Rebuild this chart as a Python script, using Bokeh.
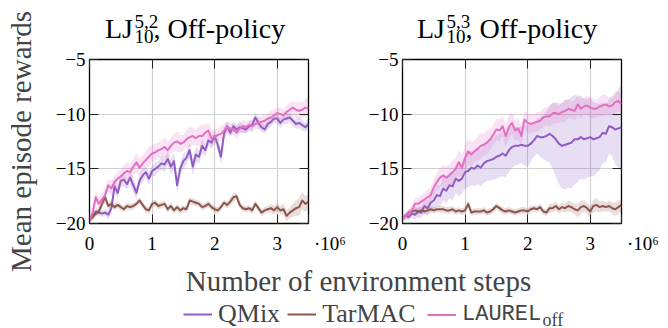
import math
from bokeh.plotting import figure
from bokeh.layouts import column, row
from bokeh.models import (FixedTicker, CustomJSTickFormatter, Label, Legend, LegendItem,
                          LinearAxis, Range1d)
from bokeh.embed import file_html
from bokeh.resources import INLINE

# x positions: environment steps (every 50k steps)
STEPS = [i * 50_000 for i in range(71)]

# ---------------- Left panel: LJ_10^{5,2} ----------------
LEFT_QMIX = [
    -19.7, -19.3, -18.9, -19.0, -19.1, -19.0, -19.2, -18.6, -16.6, -17.2,
    -16.1, -16.0, -16.4, -15.8, -16.5, -17.2, -16.1, -15.6, -15.3, -15.9,
    -15.2, -15.0, -14.8, -14.5, -14.6, -14.1, -14.8, -14.3, -16.5, -15.0,
    -14.3, -14.0, -13.3, -14.8, -13.7, -13.9, -12.9, -13.3, -12.4, -12.6,
    -12.0, -12.8, -13.9, -11.8, -11.1, -11.7, -11.1, -11.4, -11.2, -11.3,
    -11.4, -11.1, -11.0, -10.3, -10.8, -11.2, -11.4, -10.9, -10.7, -10.4,
    -10.4, -10.8, -10.5, -10.4, -10.3, -10.6, -10.9, -10.8, -11.0, -11.2,
    -10.9]
LEFT_QMIX_SD = [
    0.2, 0.3, 0.3, 0.3, 0.3, 0.3, 0.4, 0.5, 0.6, 0.5,
    0.6, 0.6, 0.5, 0.6, 0.7, 0.6, 0.5, 0.6, 0.5, 0.6,
    0.5, 0.6, 0.5, 0.6, 0.7, 0.6, 0.7, 0.8, 0.7, 0.6,
    0.7, 0.6, 0.7, 0.8, 0.7, 0.6, 0.7, 0.6, 0.5, 0.6,
    0.5, 0.6, 0.7, 0.6, 0.5, 0.4, 0.5, 0.4, 0.5, 0.4,
    0.4, 0.4, 0.5, 0.4, 0.5, 0.4, 0.4, 0.5, 0.4, 0.4,
    0.4, 0.5, 0.4, 0.5, 0.4, 0.5, 0.4, 0.5, 0.5, 0.4,
    0.5]
LEFT_TARMAC = [
    -19.7, -19.4, -19.1, -18.9, -18.2, -17.6, -18.4, -18.2, -18.5, -18.3,
    -18.5, -18.7, -18.4, -18.5, -18.4, -18.2, -17.9, -18.3, -18.7, -18.8,
    -18.2, -18.1, -18.4, -18.3, -18.2, -18.7, -18.4, -18.8, -18.5, -18.8,
    -18.6, -18.7, -17.9, -18.0, -18.1, -18.2, -18.5, -18.4, -18.2, -18.5,
    -18.7, -18.8, -18.5, -18.1, -18.3, -18.0, -17.6, -17.5, -18.3, -18.6,
    -18.7, -18.6, -18.8, -18.2, -18.6, -19.0, -18.8, -18.7, -18.6, -18.8,
    -18.5, -18.8, -18.7, -19.3, -19.0, -18.8, -18.6, -18.5, -17.9, -18.2,
    -18.0]
LEFT_TARMAC_SD = [
    0.2, 0.3, 0.3, 0.3, 0.4, 0.4, 0.3, 0.3, 0.3, 0.3,
    0.3, 0.3, 0.3, 0.3, 0.3, 0.3, 0.3, 0.3, 0.3, 0.3,
    0.3, 0.3, 0.3, 0.3, 0.3, 0.3, 0.3, 0.3, 0.3, 0.3,
    0.3, 0.3, 0.3, 0.3, 0.3, 0.3, 0.3, 0.3, 0.3, 0.3,
    0.3, 0.3, 0.3, 0.3, 0.3, 0.4, 0.4, 0.3, 0.3, 0.3,
    0.3, 0.3, 0.3, 0.3, 0.3, 0.3, 0.3, 0.3, 0.4, 0.4,
    0.4, 0.4, 0.5, 0.5, 0.5, 0.6, 0.7, 0.8, 0.8, 0.7,
    0.7]
LEFT_LAUREL = [
    -19.7, -19.0, -17.6, -18.2, -17.8, -17.4, -16.5, -16.8, -16.2, -15.9,
    -15.7, -15.4, -15.2, -15.3, -14.8, -14.4, -14.9, -14.5, -14.2, -13.9,
    -13.6, -13.5, -13.3, -13.2, -13.0, -13.3, -12.9, -12.6, -12.5, -12.7,
    -12.6, -12.3, -12.1, -12.0, -12.2, -12.0, -12.0, -11.7, -11.5, -12.2,
    -12.1, -11.9, -11.8, -11.5, -11.2, -11.3, -11.4, -11.7, -11.3, -11.1,
    -11.2, -11.0, -11.1, -10.9, -10.8, -10.7, -10.6, -10.4, -10.3, -10.1,
    -9.9, -10.0, -10.1, -9.8, -9.6, -9.4, -9.6, -9.7, -9.6, -9.4,
    -9.5]
LEFT_LAUREL_SD = [
    0.2, 0.4, 0.6, 0.5, 0.6, 0.7, 0.6, 0.7, 0.6, 0.7,
    0.6, 0.7, 0.8, 0.7, 0.8, 0.9, 0.8, 0.7, 0.8, 0.9,
    0.8, 0.8, 0.7, 0.8, 0.9, 0.8, 0.7, 0.8, 0.9, 0.8,
    0.7, 0.8, 0.9, 0.8, 0.7, 0.9, 1.0, 0.8, 0.7, 0.8,
    0.7, 0.6, 0.7, 0.6, 0.5, 0.6, 0.5, 0.6, 0.5, 0.6,
    0.5, 0.5, 0.6, 0.5, 0.6, 0.5, 0.6, 0.5, 0.6, 0.5,
    0.5, 0.6, 0.5, 0.6, 0.7, 0.6, 0.7, 0.8, 0.7, 0.8,
    0.9]

# ---------------- Right panel: LJ_10^{5,3} ----------------
RIGHT_QMIX = [
    -19.6, -19.3, -19.4, -19.1, -19.2, -18.9, -19.0, -18.4, -18.6, -18.1,
    -17.9, -17.4, -17.5, -16.8, -17.0, -16.5, -16.6, -15.9, -16.1, -15.9,
    -15.3, -15.2, -14.9, -15.0, -14.7, -14.9, -14.5, -14.3, -14.2, -14.1,
    -13.9, -13.8, -13.6, -13.8, -13.3, -13.0, -12.9, -12.9, -12.8, -12.9,
    -12.9, -12.7, -12.4, -12.0, -12.1, -12.1, -12.0, -11.8, -12.0, -12.3,
    -12.7, -12.9, -12.8, -12.7, -12.6, -12.3, -12.3, -12.1, -12.3, -12.2,
    -12.1, -12.3, -12.2, -12.1, -11.7, -11.8, -11.1, -11.2, -11.4, -11.3,
    -11.2]
RIGHT_QMIX_SD = [
    0.2, 0.3, 0.3, 0.4, 0.4, 0.5, 0.5, 0.6, 0.7, 0.8,
    0.9, 1.0, 1.0, 1.1, 1.2, 1.2, 1.3, 1.3, 1.4, 1.4,
    1.5, 1.5, 1.6, 1.6, 1.7, 1.7, 1.8, 1.8, 1.9, 1.9,
    2.0, 2.0, 2.1, 2.0, 2.0, 1.9, 1.8, 1.7, 1.7, 1.8,
    1.9, 1.7, 1.5, 1.6, 1.8, 2.0, 2.3, 2.6, 3.0, 3.4,
    3.7, 3.9, 4.1, 4.0, 4.2, 4.1, 3.9, 3.8, 3.7, 3.6,
    3.6, 3.4, 3.2, 3.0, 2.8, 2.6, 2.5, 2.7, 3.2, 3.6,
    3.9]
RIGHT_TARMAC = [
    -19.5, -19.3, -19.0, -18.9, -18.8, -18.9, -18.8, -18.9, -18.8, -18.7,
    -18.8, -18.7, -18.7, -18.7, -18.8, -18.8, -18.7, -18.9, -18.8, -18.9,
    -18.8, -18.2, -19.0, -18.9, -18.9, -18.9, -18.8, -19.0, -18.9, -18.7,
    -18.4, -18.6, -18.8, -18.9, -18.8, -18.9, -19.0, -18.9, -18.8, -18.8,
    -18.9, -18.7, -18.6, -18.7, -18.5, -18.9, -19.0, -18.6, -18.6, -18.4,
    -18.7, -18.5, -18.6, -18.4, -18.5, -18.7, -18.8, -18.5, -18.4, -18.6,
    -18.9, -18.4, -18.3, -18.5, -18.4, -18.5, -18.4, -18.6, -18.7, -18.5,
    -18.3]
RIGHT_TARMAC_SD = [
    0.2, 0.2, 0.3, 0.3, 0.3, 0.3, 0.3, 0.3, 0.3, 0.3,
    0.3, 0.3, 0.3, 0.3, 0.3, 0.3, 0.3, 0.3, 0.3, 0.3,
    0.3, 0.3, 0.3, 0.3, 0.3, 0.3, 0.3, 0.3, 0.3, 0.3,
    0.3, 0.3, 0.3, 0.3, 0.3, 0.3, 0.3, 0.3, 0.3, 0.3,
    0.3, 0.3, 0.3, 0.3, 0.3, 0.3, 0.3, 0.4, 0.4, 0.4,
    0.4, 0.4, 0.4, 0.5, 0.5, 0.5, 0.6, 0.6, 0.5, 0.5,
    0.5, 0.6, 0.6, 0.5, 0.5, 0.4, 0.5, 0.5, 0.6, 0.6,
    0.6]
RIGHT_LAUREL = [
    -19.6, -19.3, -19.1, -18.8, -18.2, -18.2, -18.0, -17.8, -17.6, -17.4,
    -16.7, -16.2, -15.8, -15.6, -15.8, -15.6, -15.3, -15.0, -14.4, -14.9,
    -14.0, -13.4, -13.7, -13.4, -13.2, -12.9, -12.8, -12.6, -12.3, -11.9,
    -11.4, -11.5, -11.1, -12.0, -11.2, -10.8, -11.5, -11.3, -12.0, -10.5,
    -10.8, -10.9, -10.8, -10.7, -10.6, -10.3, -10.2, -10.2, -9.9, -9.9,
    -10.0, -9.8, -9.7, -9.5, -9.6, -9.7, -9.1, -9.5, -9.3, -9.2,
    -9.4, -9.5, -9.5, -9.3, -9.2, -9.1, -9.3, -9.2, -8.9, -8.8,
    -9.1]
RIGHT_LAUREL_SD = [
    0.3, 0.4, 0.4, 0.5, 0.5, 0.6, 0.6, 0.6, 0.7, 0.7,
    0.8, 0.8, 0.9, 0.9, 1.0, 1.0, 1.1, 1.0, 1.1, 1.2,
    1.1, 1.2, 1.1, 1.0, 1.1, 1.2, 1.0, 1.1, 1.0, 0.9,
    1.0, 1.0, 0.9, 1.0, 1.1, 1.0, 0.9, 1.0, 0.9, 0.8,
    0.9, 0.9, 0.8, 0.9, 0.8, 0.9, 0.8, 0.9, 1.0, 0.9,
    0.8, 0.9, 1.0, 0.9, 0.8, 0.9, 1.0, 0.9, 0.8, 0.9,
    1.0, 0.9, 0.8, 0.9, 1.0, 0.9, 0.8, 0.9, 1.0, 0.9,
    0.8]

SERIES = ["QMix", "TarMAC", "LAUREL"]
COLORS = {"QMix": "#8e5cc4", "TarMAC": "#8c564b", "LAUREL": "#e36fc1"}
X_TICKS = [0, 1_000_000, 2_000_000, 3_000_000]
X_END = 3_500_000
Y_TICKS = [-20, -15, -10, -5]
TITLE_SUPS = ["5,2", "5,3"]

SERIF = "Liberation Serif"
MONO = "Liberation Mono"

LEFT = {"QMix": (LEFT_QMIX, LEFT_QMIX_SD), "TarMAC": (LEFT_TARMAC, LEFT_TARMAC_SD),
        "LAUREL": (LEFT_LAUREL, LEFT_LAUREL_SD)}
RIGHT = {"QMix": (RIGHT_QMIX, RIGHT_QMIX_SD), "TarMAC": (RIGHT_TARMAC, RIGHT_TARMAC_SD),
         "LAUREL": (RIGHT_LAUREL, RIGHT_LAUREL_SD)}

FRAME_W, FRAME_H = 219, 164
NBSP = "\u00a0"

X_FORMAT = CustomJSTickFormatter(code="""
if (tick > 3400000) { return '%s' + '\\u00b710\\u2076'; }
return (tick / 1e6).toFixed(0);
""" % (NBSP * 9))
Y_FORMAT = CustomJSTickFormatter(
    code="return tick < 0 ? '\\u2212' + Math.abs(tick) : String(tick);")


def style_axis(ax, show_labels=True):
    ax.axis_line_color = None
    ax.major_tick_in = 9
    ax.major_tick_out = 0
    ax.major_tick_line_color = "#222222"
    ax.major_tick_line_width = 1
    ax.minor_tick_line_color = None
    ax.major_label_text_font = SERIF
    ax.major_label_text_font_size = "19px" if show_labels else "0px"
    ax.major_label_text_color = "black"
    if not show_labels:
        ax.major_label_standoff = 0
        ax.formatter = CustomJSTickFormatter(code="return '';")


def make_panel(data, border_left, border_right):
    p = figure(frame_width=FRAME_W, frame_height=FRAME_H, title=None,
               x_range=Range1d(0, X_END), y_range=Range1d(-20, -5),
               min_border_left=border_left, min_border_right=border_right,
               min_border_top=11, min_border_bottom=33,
               output_backend="svg", toolbar_location=None)
    p.background_fill_color = "white"
    p.border_fill_color = "white"
    p.outline_line_color = "black"
    p.outline_line_width = 1.3

    xa = p.xaxis[0]
    ya = p.yaxis[0]
    xa.ticker = FixedTicker(ticks=X_TICKS + [X_END])
    xa.formatter = X_FORMAT
    ya.ticker = FixedTicker(ticks=Y_TICKS)
    ya.formatter = Y_FORMAT
    style_axis(xa)
    style_axis(ya)
    xa.major_label_standoff = 9
    ya.major_label_standoff = 4

    top_ax = LinearAxis(ticker=FixedTicker(ticks=X_TICKS))
    style_axis(top_ax, show_labels=False)
    p.add_layout(top_ax, "above")
    right_ax = LinearAxis(ticker=FixedTicker(ticks=Y_TICKS))
    style_axis(right_ax, show_labels=False)
    p.add_layout(right_ax, "right")

    p.xgrid.grid_line_color = "#cfcfcf"
    p.ygrid.grid_line_color = "#cfcfcf"
    p.xgrid.grid_line_width = 1.2
    p.ygrid.grid_line_width = 1.2

    for name in SERIES:
        mean, sd = data[name]
        lo = [m - s for m, s in zip(mean, sd)]
        hi = [m + s for m, s in zip(mean, sd)]
        p.varea(x=STEPS, y1=lo, y2=hi, fill_color=COLORS[name], fill_alpha=0.2)
        p.line(x=STEPS, y=mean, line_color=COLORS[name], line_width=2, line_join="round")
    return p


def strip(width, height):
    s = figure(frame_width=width, frame_height=height, title=None,
               x_range=Range1d(0, width), y_range=Range1d(0, height),
               x_axis_type=None, y_axis_type=None, min_border=0,
               output_backend="svg", toolbar_location=None)
    s.outline_line_color = None
    s.background_fill_color = "white"
    s.border_fill_color = "white"
    return s


# y-axis title strip (left)
ylab = strip(38, 328)
ylab.add_layout(Label(x=20, y=187, text="Mean episode rewards", angle=math.pi / 2,
                      text_align="center", text_baseline="middle",
                      text_font=SERIF, text_font_size="29px"))

# panel titles strip
titles = strip(630, 48)
for i, sup in enumerate(TITLE_SUPS):
    dx = 312 * i
    base = dict(text_font=SERIF, text_color="black", text_baseline="alphabetic")
    titles.add_layout(Label(x=94.5 + dx, y=20, text="LJ", text_align="right",
                            text_font_size="28px", **base))
    titles.add_layout(Label(x=96 + dx, y=27, text=sup, text_align="left",
                            text_font_size="19px", **base))
    titles.add_layout(Label(x=96 + dx, y=12, text="10", text_align="left",
                            text_font_size="19px", **base))
    titles.add_layout(Label(x=115 + dx, y=20, text=", Off-policy", text_align="left",
                            text_font_size="28px", **base))

left = make_panel(LEFT, 51, 46)
right = make_panel(RIGHT, 48, 47)

# bottom strip: shared x-axis title and legend
bottom = strip(630, 72)
bottom.add_layout(Label(x=320, y=48, text="Number of environment steps", text_align="center",
                        text_baseline="alphabetic", text_font=SERIF, text_font_size="29px"))

NAN = float("nan")
dummies = {name: bottom.line(x=[NAN], y=[NAN], line_color=COLORS[name], line_width=2)
           for name in SERIES}
leg_common = dict(orientation="horizontal", border_line_color=None, background_fill_alpha=0,
                  padding=0, margin=0, spacing=7, glyph_width=29,
                  label_standoff=6, label_height=20)
leg1 = Legend(items=[LegendItem(label="QMix", renderers=[dummies["QMix"]]),
                     LegendItem(label="TarMAC", renderers=[dummies["TarMAC"]])],
              location=(145, -5), glyph_height=38,
              label_text_font=SERIF, label_text_font_size="26px", **leg_common)
leg2 = Legend(items=[LegendItem(label="LAUREL", renderers=[dummies["LAUREL"]])],
              location=(389, 0), glyph_height=27,
              label_text_font=MONO, label_text_font_size="22px", **leg_common)
bottom.add_layout(leg1)
bottom.add_layout(leg2)
bottom.add_layout(Label(x=504, y=9, text="off", text_baseline="alphabetic",
                        text_font=SERIF, text_font_size="18px"))

layout = row(ylab, column(titles, row(left, right), bottom))

with open("out.html", "w") as f:
    f.write(file_html(layout, INLINE))
